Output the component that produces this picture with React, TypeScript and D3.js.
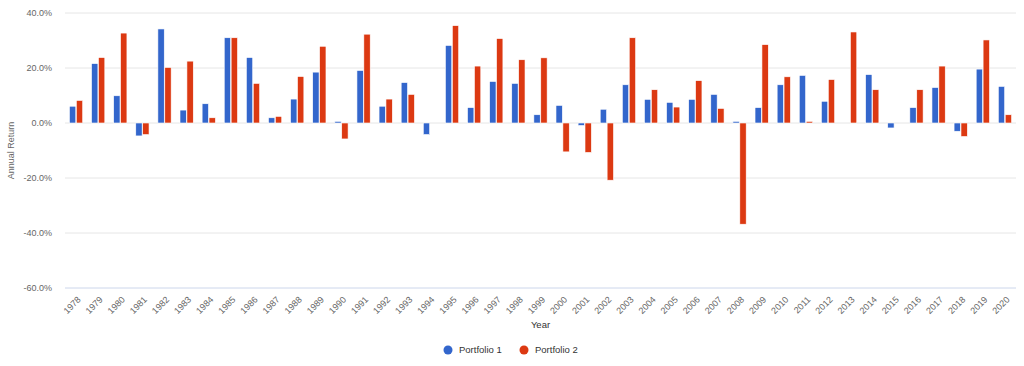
import * as d3 from "d3";

const years = d3.range(1978, 2021).map(String);

const portfolio1 = [
  6.1, 21.6, 9.9, -4.7, 34.2, 4.7, 7.0, 31.0, 23.8, 1.9, 8.7, 18.5, 0.6, 19.1,
  6.1, 14.7, -4.2, 28.2, 5.6, 15.1, 14.4, 3.0, 6.4, -0.9, 5.0, 13.9, 8.6, 7.5,
  8.6, 10.4, 0.6, 5.6, 13.9, 17.3, 7.9, 0, 17.6, -1.8, 5.6, 12.9, -3.0, 19.6,
  13.3,
];

const portfolio2 = [
  8.2, 23.8, 32.7, -4.2, 20.2, 22.5, 1.9, 31.0, 14.4, 2.4, 16.9, 27.9, -5.8,
  32.3, 8.7, 10.4, 0, 35.4, 20.7, 30.7, 23.0, 23.7, -10.5, -10.7, -20.8, 31.0,
  12.1, 5.8, 15.4, 5.3, -36.8, 28.5, 16.8, 0.6, 15.8, 33.1, 12.1, 0, 12.1, 20.7,
  -4.9, 30.2, 3.0,
];

const yTicks = [40, 20, 0, -20, -40, -60];

const series = [
  { name: "Portfolio 1", color: "#3366cc", values: portfolio1 },
  { name: "Portfolio 2", color: "#dc3912", values: portfolio2 },
];

const font = "'Liberation Sans', Arial, Helvetica, sans-serif";

export default function App() {
  const width = 1024;
  const height = 366;
  const left = 65;
  const right = 1016;
  const top = 13;
  const bottom = 288;

  const x = d3
    .scaleBand()
    .domain(years)
    .range([left, right])
    .paddingInner(0.4)
    .paddingOuter(0.2);
  const x1 = d3
    .scaleBand()
    .domain(series.map((s) => s.name))
    .range([0, x.bandwidth()])
    .paddingInner(0.08);
  const y = d3.scaleLinear().domain([-60, 40]).range([bottom, top]);

  return (
    <div>
      <style>{`body{margin:0}`}</style>
      <svg width={width} height={height} style={{ display: "block", fontFamily: font }}>
        {yTicks.map((t) => (
          <g key={t}>
            <line
              x1={left}
              x2={right}
              y1={y(t)}
              y2={y(t)}
              stroke={t === -60 ? "#ccd6eb" : "#e6e6e6"}
              strokeWidth={1}
            />
            <text x={52} y={y(t)} dy="0.35em" textAnchor="end" fontSize={9} fill="#666">
              {t.toFixed(1) + "%"}
            </text>
          </g>
        ))}
        <text
          transform={`translate(14,${(top + bottom) / 2}) rotate(-90)`}
          textAnchor="middle"
          fontSize={9}
          fill="#666"
        >
          Annual Return
        </text>

        {series.map((s) => (
          <g key={s.name}>
            {s.values.map((v, i) => {
              const xp = (x(years[i]) ?? 0) + (x1(s.name) ?? 0);
              const y0 = y(Math.max(0, v));
              const h = Math.abs(y(v) - y(0));
              return (
                <rect
                  key={i}
                  x={xp}
                  y={y0}
                  width={x1.bandwidth()}
                  height={h}
                  fill={s.color}
                  stroke="#fff"
                  strokeWidth={h > 0 ? 0.6 : 0}
                />
              );
            })}
          </g>
        ))}

        {years.map((yr) => {
          const cx = (x(yr) ?? 0) + x.bandwidth() / 2;
          return (
            <text
              key={yr}
              transform={`translate(${cx + 3},${bottom + 10}) rotate(-45)`}
              textAnchor="end"
              dy="0.35em"
              fontSize={9}
              fill="#666"
            >
              {yr}
            </text>
          );
        })}

        <text x={(left + right) / 2} y={328} textAnchor="middle" fontSize={9.5} fill="#333">
          Year
        </text>

        {series.map((s, i) => {
          const lx = 448 + i * 76;
          return (
            <g key={s.name}>
              <circle cx={lx} cy={350} r={4.5} fill={s.color} />
              <text x={lx + 11} y={350} dy="0.35em" fontSize={9.5} fill="#333">
                {s.name}
              </text>
            </g>
          );
        })}
      </svg>
    </div>
  );
}
